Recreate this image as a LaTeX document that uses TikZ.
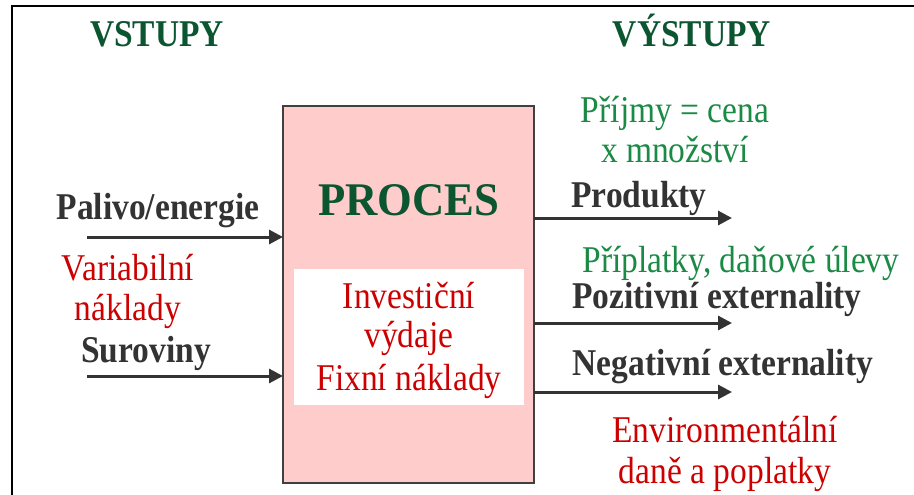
\documentclass[tikz,border=0pt]{standalone}
\usepackage{fontspec}
\setmainfont[FakeStretch=0.886]{Liberation Serif}
\newfontfamily\procfont[FakeStretch=0.955]{Liberation Serif}
\usetikzlibrary{arrows.meta}
\definecolor{hgreen}{HTML}{0B5530}
\definecolor{lgreen}{HTML}{1A8A45}
\definecolor{dred}{HTML}{CC0000}
\definecolor{dgray}{HTML}{333333}
\definecolor{boxpink}{HTML}{FFCCCC}
\begin{document}
\begin{tikzpicture}[x=1pt,y=-1pt,
  txt/.style={anchor=base, inner sep=0pt, font=\fontsize{37.8}{44}\selectfont},
  head/.style={txt, text=hgreen, font=\fontsize{37.8}{44}\selectfont\bfseries},
  lab/.style={txt, text=dgray, font=\fontsize{37.8}{44}\selectfont\bfseries},
  gtxt/.style={txt, text=lgreen},
  rtxt/.style={txt, text=dred},
  arr/.style={draw=dgray, line width=3pt, -{Triangle[length=14pt,width=14pt]}}]
\useasboundingbox (0,0) rectangle (914,495);
\fill[white] (0,0) rectangle (914,495);
\draw[line width=2pt, black] (12,495) -- (12,6) -- (914,6);

\node (proc) [rectangle, draw=black!75, line width=1.2pt, fill=boxpink, minimum width=251pt, minimum height=377pt, inner sep=0pt, outer sep=0pt] at (408.5,294.5) {};
\node (inner) [rectangle, fill=white, minimum width=230pt, minimum height=136pt, inner sep=0pt] at (409,337) {};

\node (vst) [head] at (157,47) {VSTUPY};
\node (vyst) [head] at (692,47) {VÝSTUPY};
\node (procl) [txt, text=hgreen, font=\procfont\fontsize{46.8}{52}\selectfont\bfseries] at (409,215) {PROCES};

\node (prij1) [gtxt] at (675,122) {Příjmy = cena};
\node (prij2) [gtxt] at (675,162) {x množství};
\node (prod) [lab] at (639,207) {Produkty};
\node (pripl) [gtxt] at (741,272) {Příplatky, daňové úlevy};
\node (poz) [lab] at (717,308) {Pozitivní externality};
\node (neg) [lab] at (723,375) {Negativní externality};
\node (env1) [rtxt] at (725,442) {Environmentální};
\node (env2) [rtxt] at (725,483) {daně a poplatky};

\node (pal) [lab] at (158,219) {Palivo/energie};
\node (var1) [rtxt] at (128,280) {Variabilní};
\node (var2) [rtxt] at (128,320) {náklady};
\node (sur) [lab] at (146,362) {Suroviny};

\node (inv1) [rtxt] at (409,308) {Investiční};
\node (inv2) [rtxt] at (409,347) {výdaje};
\node (inv3) [rtxt] at (409,390) {Fixní náklady};

\coordinate (i1) at (87,237);
\coordinate (i2) at (87,376);
\coordinate (o1) at (732,218);
\coordinate (o2) at (732,323);
\coordinate (o3) at (732,392);
\draw[arr] (i1) -- (proc.west |- i1);
\draw[arr] (i2) -- (proc.west |- i2);
\draw[arr] (proc.east |- o1) -- (o1);
\draw[arr] (proc.east |- o2) -- (o2);
\draw[arr] (proc.east |- o3) -- (o3);
\end{tikzpicture}
\end{document}
